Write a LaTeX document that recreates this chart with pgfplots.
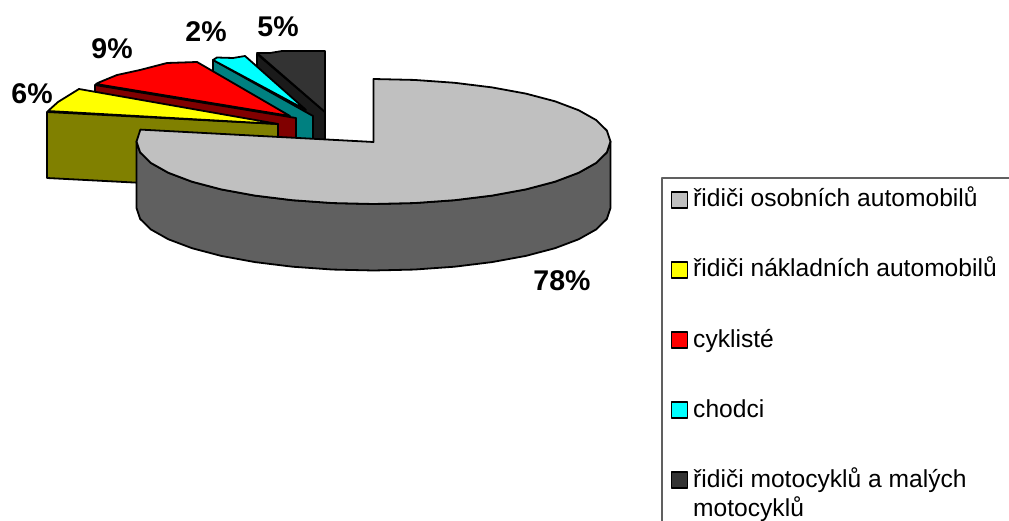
\documentclass[border=0pt]{standalone}
\usepackage{fontspec}
\setmainfont{Liberation Sans}
\usepackage{pgfplots}
\pgfplotsset{compat=1.18}
\definecolor{mainT}{HTML}{C0C0C0}
\definecolor{mainS}{HTML}{606060}
\definecolor{olv}{HTML}{808000}
\definecolor{drd}{HTML}{800000}
\definecolor{tea}{HTML}{008080}
\definecolor{motT}{HTML}{333333}
\definecolor{motS}{HTML}{1A1A1A}
\definecolor{cyn}{HTML}{00FFFF}
\definecolor{yel}{HTML}{FFFF00}
\definecolor{rd}{HTML}{FF0000}
\begin{document}
\begin{tikzpicture}
\path[use as bounding box] (0,0) rectangle (1009pt,521pt);
\begin{axis}[at={(0,0)},anchor=south west,hide axis,x=1pt,y=1pt,y dir=reverse,xmin=0,xmax=1009,ymin=0,ymax=521,
  scale only axis,clip=false,
  every axis plot/.append style={draw=black,line width=1.8pt,line join=round,mark=none,forget plot}]
% motorcycle slice
\addplot[fill=motS] coordinates {(257,54)(325,112)(325,178)(257,120)} --cycle;
\addplot[fill=motT] coordinates {(257,53)(270,53)(282,51)(325,51)(325,112)} --cycle;
% pedestrians
\addplot[fill=tea] coordinates {(213,60)(313,116)(313,182)(213,126)} --cycle;
\addplot[fill=cyn] coordinates {(213,60)(217,57.5)(233,58)(245,56)(306,110)} --cycle;
% cyclists
\addplot[fill=drd] coordinates {(95,85)(296,118)(296,184)(95,151)} --cycle;
\addplot[fill=rd] coordinates {(96,84)(100,82)(117,75)(140,70)(167,63)(197,62)(290,116)} --cycle;
% truck drivers
\addplot[fill=olv] coordinates {(47,112)(278,124)(278,190)(47,178)} --cycle;
\addplot[fill=yel] coordinates {(48,111)(58,102)(79,89)(278,124)} --cycle;
% car drivers: side
\addplot[fill=mainS] coordinates {(136.5,141.5)(140.1,152.35)(150.8,162.9)(168.3,172.75)(192,181.7)(221.2,189.4)(255,195.6)(292.4,200.2)(332.4,203.05)(373.5,204)(414.6,203.05)(454.6,200.2)(492,195.6)(525.8,189.4)(555,181.7)(578.7,172.75)(596.2,162.9)(606.9,152.35)(610.5,141.5)
 (610.5,208)(606.9,218.85)(596.2,229.4)(578.7,239.25)(555,248.2)(525.8,255.9)(492,262.1)(454.6,266.7)(414.6,269.55)(373.5,270.5)(332.4,269.55)(292.4,266.7)(255,262.1)(221.2,255.9)(192,248.2)(168.3,239.25)(150.8,229.4)(140.1,218.85)(136.5,208)} --cycle;
% car drivers: top
\addplot[fill=mainT] coordinates {(373.5,142)(373.5,79)(414.6,79.95)(454.6,82.8)(492,87.4)(525.8,93.6)(555,101.3)(578.7,110.25)(596.2,120.1)(606.9,130.65)(610.5,141.5)(606.9,152.35)(596.2,162.9)(578.7,172.75)(555,181.7)(525.8,189.4)(492,195.6)(454.6,200.2)(414.6,203.05)(373.5,204)(332.4,203.05)(292.4,200.2)(255,195.6)(221.2,189.4)(192,181.7)(168.3,172.75)(150.8,162.9)(140.1,152.35)(136.5,141.5)(140.4,129.6)} --cycle;
% legend frame
\addplot[draw=mainS,line width=1.2pt] coordinates {(662,521)(662,178)(1009,178)};
% legend swatches
\addplot[fill=mainT,line width=1.5pt] coordinates {(671.5,192)(687.5,192)(687.5,208)(671.5,208)} --cycle;
\addplot[fill=yel,line width=1.5pt] coordinates {(671.5,262)(687.5,262)(687.5,278)(671.5,278)} --cycle;
\addplot[fill=rd,line width=1.5pt] coordinates {(671.5,332)(687.5,332)(687.5,348)(671.5,348)} --cycle;
\addplot[fill=cyn,line width=1.5pt] coordinates {(671.5,402)(687.5,402)(687.5,418)(671.5,418)} --cycle;
\addplot[fill=motT,line width=1.5pt] coordinates {(671.5,472)(687.5,472)(687.5,488)(671.5,488)} --cycle;
% value labels
\def\vl#1#2#3{\node[font=\fontsize{28.5}{30}\selectfont\bfseries,inner sep=0pt] at (axis cs:#1,#2) {#3};}
\vl{562}{281}{78\%}
\vl{32}{94}{6\%}
\vl{112}{49}{9\%}
\vl{206}{32}{2\%}
\vl{278}{27}{5\%}
% legend text
\def\lt#1#2{\node[font=\fontsize{24.6}{28}\selectfont,anchor=base west,inner sep=0pt] at (axis cs:693,#1) {#2};}
\lt{207}{řidiči osobních automobilů}
\lt{277}{řidiči nákladních automobilů}
\lt{347}{cyklisté}
\lt{417}{chodci}
\lt{487}{řidiči motocyklů a malých}
\lt{516}{motocyklů}
\end{axis}
\end{tikzpicture}
\end{document}
